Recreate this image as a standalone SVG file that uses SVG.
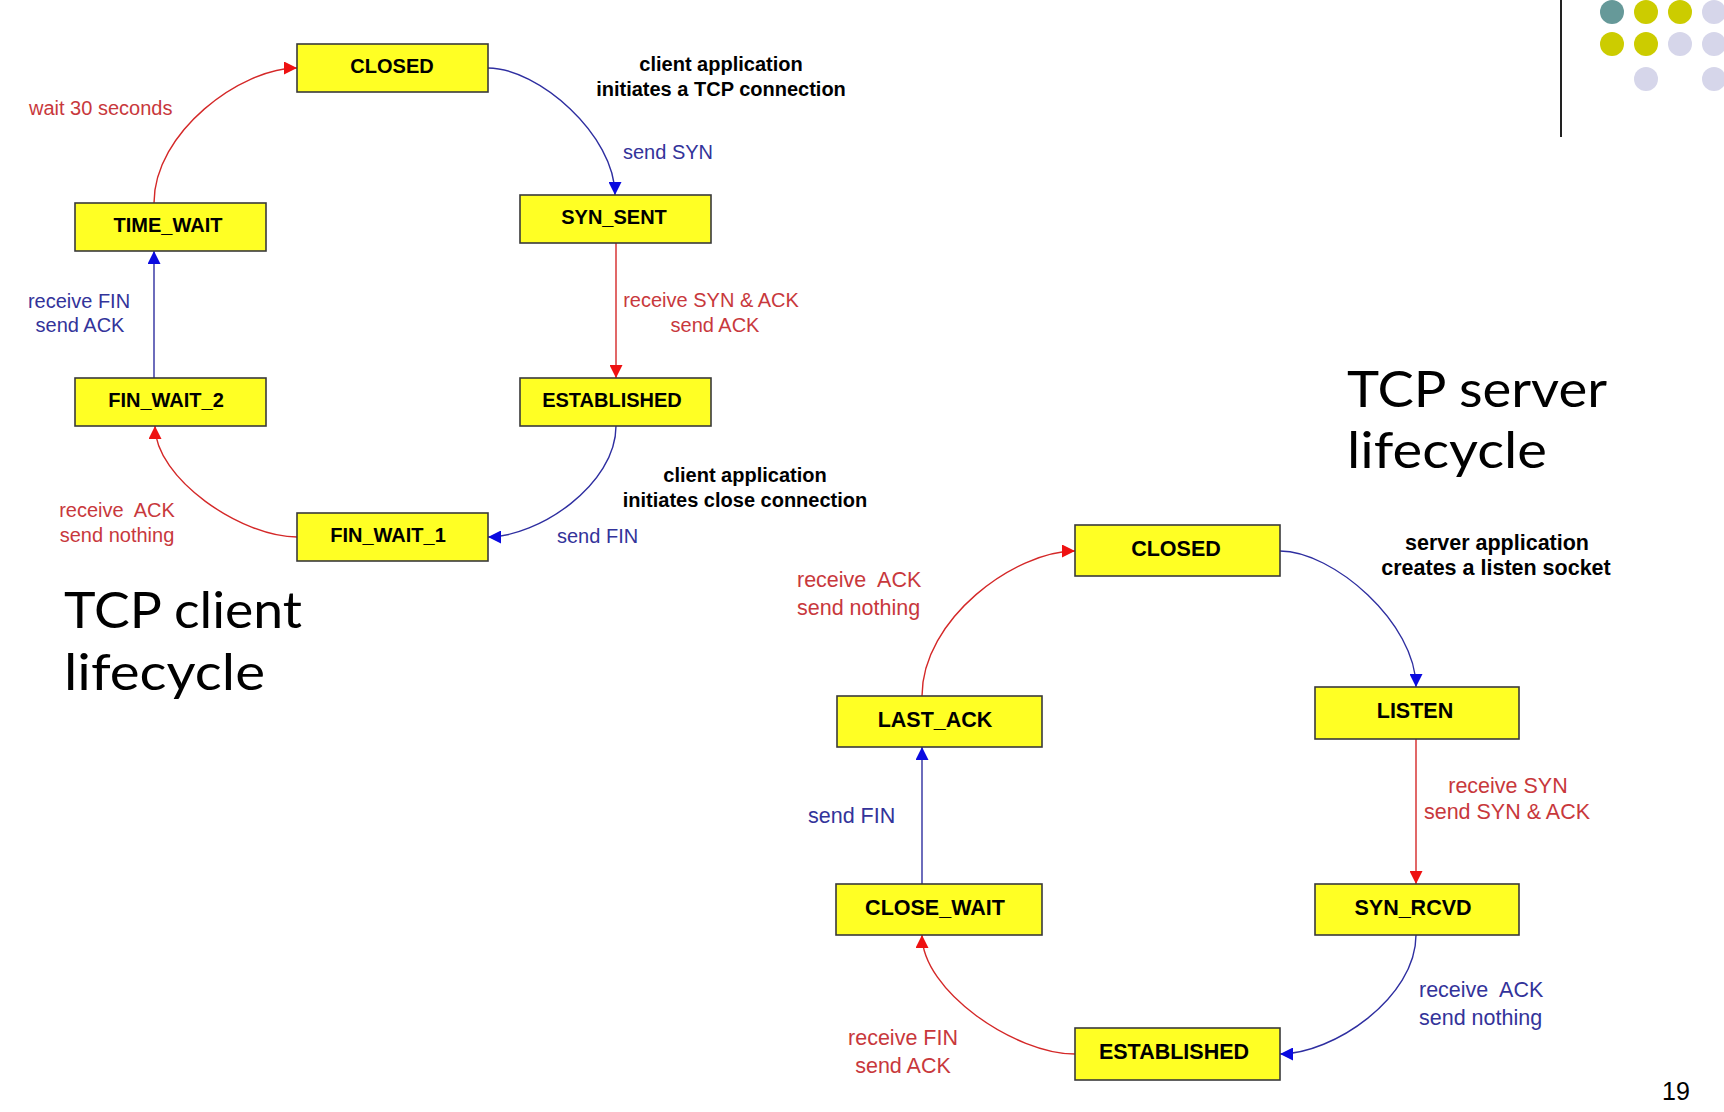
<svg xmlns="http://www.w3.org/2000/svg" width="1724" height="1112" viewBox="0 0 1724 1112">
<style>
.box{fill:#ffff24;stroke:#3a3a3a;stroke-width:1.6}
.nl{font-family:"Liberation Sans",Arial,sans-serif;font-weight:bold;fill:#000;text-anchor:middle}
.c .nl{font-size:20px}
.s .nl{font-size:21.5px}
.ann{font-family:"Liberation Sans",Arial,sans-serif;font-weight:bold;fill:#000;text-anchor:middle}
.lbl{font-family:"Liberation Sans",Arial,sans-serif}
.red{fill:#c8383c}
.blue{fill:#33339a}
.er{fill:none;stroke:#d42828;stroke-width:1.4}
.eb{fill:none;stroke:#2e2ea0;stroke-width:1.4}
.title{font-family:Lato,"Open Sans",sans-serif;font-size:50px;fill:#000}
</style>
<defs>
<marker id="ar" markerUnits="userSpaceOnUse" markerWidth="14" markerHeight="13" refX="13" refY="6.5" orient="auto" viewBox="0 0 14 13"><path d="M0,0 L13,6.5 L0,13 z" fill="#ee1111"/></marker>
<marker id="ab" markerUnits="userSpaceOnUse" markerWidth="14" markerHeight="13" refX="13" refY="6.5" orient="auto" viewBox="0 0 14 13"><path d="M0,0 L13,6.5 L0,13 z" fill="#0a0ae0"/></marker>
</defs>
<rect width="1724" height="1112" fill="#fff"/>

<!-- decoration -->
<line x1="1561" y1="0" x2="1561" y2="137" stroke="#222" stroke-width="2"/>
<g>
<circle cx="1612" cy="12" r="12" fill="#669999"/>
<circle cx="1646" cy="12" r="12" fill="#cccc00"/>
<circle cx="1680" cy="12" r="12" fill="#cccc00"/>
<circle cx="1714" cy="12" r="12" fill="#d6d6ea"/>
<circle cx="1612" cy="44" r="12" fill="#cccc00"/>
<circle cx="1646" cy="44" r="12" fill="#cccc00"/>
<circle cx="1680" cy="44" r="12" fill="#d6d6ea"/>
<circle cx="1714" cy="44" r="12" fill="#d6d6ea"/>
<circle cx="1646" cy="79" r="12" fill="#d6d6ea"/>
<circle cx="1714" cy="79" r="12" fill="#d6d6ea"/>
</g>

<!-- connectors -->
<g id="connectors">
<path class="er" d="M154,203 C154,132 241,68 297,68" marker-end="url(#ar)"/>
<path class="eb" d="M488,68 C538,68 615,135 615,195" marker-end="url(#ab)"/>
<path class="er" d="M616,243 L616,378" marker-end="url(#ar)"/>
<path class="eb" d="M616,426 C616,485 538,537 488,537" marker-end="url(#ab)"/>
<path class="er" d="M297,537 C242,537 155,479 155,426" marker-end="url(#ar)"/>
<path class="eb" d="M154,378 L154,251" marker-end="url(#ab)"/>

<path class="eb" d="M1280,551 C1333,551 1416,623 1416,687" marker-end="url(#ab)"/>
<path class="er" d="M1416,739 L1416,884" marker-end="url(#ar)"/>
<path class="eb" d="M1416,935 C1416,998 1333,1054 1280,1054" marker-end="url(#ab)"/>
<path class="er" d="M1075,1054 C1015,1054 922,991 922,935" marker-end="url(#ar)"/>
<path class="eb" d="M922,884 L922,747" marker-end="url(#ab)"/>
<path class="er" d="M922,696 C922,619 1015,551 1075,551" marker-end="url(#ar)"/>
</g>

<!-- client nodes -->
<g class="c">
<g id="c_closed"><rect class="box" x="297" y="44" width="191" height="48"/><text class="nl" x="392" y="73">CLOSED</text></g>
<g id="c_syn_sent"><rect class="box" x="520" y="195" width="191" height="48"/><text class="nl" x="614" y="224">SYN_SENT</text></g>
<g id="c_established"><rect class="box" x="520" y="378" width="191" height="48"/><text class="nl" x="612" y="407">ESTABLISHED</text></g>
<g id="c_fin_wait_1"><rect class="box" x="297" y="513" width="191" height="48"/><text class="nl" x="388" y="542">FIN_WAIT_1</text></g>
<g id="c_fin_wait_2"><rect class="box" x="75" y="378" width="191" height="48"/><text class="nl" x="166" y="407">FIN_WAIT_2</text></g>
<g id="c_time_wait"><rect class="box" x="75" y="203" width="191" height="48"/><text class="nl" x="168" y="232">TIME_WAIT</text></g>
</g>

<!-- server nodes -->
<g class="s">
<g id="s_closed"><rect class="box" x="1075" y="525" width="205" height="51"/><text class="nl" x="1176" y="556">CLOSED</text></g>
<g id="s_listen"><rect class="box" x="1315" y="687" width="204" height="52"/><text class="nl" x="1415" y="718">LISTEN</text></g>
<g id="s_syn_rcvd"><rect class="box" x="1315" y="884" width="204" height="51"/><text class="nl" x="1413" y="915">SYN_RCVD</text></g>
<g id="s_established"><rect class="box" x="1075" y="1028" width="205" height="52"/><text class="nl" x="1174" y="1059">ESTABLISHED</text></g>
<g id="s_close_wait"><rect class="box" x="836" y="884" width="206" height="51"/><text class="nl" x="935" y="915">CLOSE_WAIT</text></g>
<g id="s_last_ack"><rect class="box" x="837" y="696" width="205" height="51"/><text class="nl" x="935" y="727">LAST_ACK</text></g>
</g>

<!-- client labels -->
<g class="lbl" font-size="20">
<text class="red" x="29" y="115">wait 30 seconds</text>
<text class="blue" x="623" y="159">send SYN</text>
<text class="red" text-anchor="middle" x="711" y="307">receive SYN &amp; ACK</text>
<text class="red" text-anchor="middle" x="715" y="332">send ACK</text>
<text class="blue" text-anchor="middle" x="79" y="308">receive FIN</text>
<text class="blue" text-anchor="middle" x="80" y="332">send ACK</text>
<text class="red" text-anchor="middle" x="117" y="517" xml:space="preserve">receive  ACK</text>
<text class="red" text-anchor="middle" x="117" y="542">send nothing</text>
<text class="blue" x="557" y="543">send FIN</text>
</g>
<text class="ann" font-size="20" x="721" y="71">client application</text>
<text class="ann" font-size="20" x="721" y="96">initiates a TCP connection</text>
<text class="ann" font-size="20" x="745" y="482">client application</text>
<text class="ann" font-size="20" x="745" y="507">initiates close connection</text>

<!-- server labels -->
<g class="lbl" font-size="21.5">
<text class="red" x="797" y="587" xml:space="preserve">receive  ACK</text>
<text class="red" x="797" y="615">send nothing</text>
<text class="blue" x="808" y="823">send FIN</text>
<text class="red" text-anchor="middle" x="1508" y="793">receive SYN</text>
<text class="red" text-anchor="middle" x="1507" y="819">send SYN &amp; ACK</text>
<text class="blue" x="1419" y="997" xml:space="preserve">receive  ACK</text>
<text class="blue" x="1419" y="1025">send nothing</text>
<text class="red" text-anchor="middle" x="903" y="1045">receive FIN</text>
<text class="red" text-anchor="middle" x="903" y="1073">send ACK</text>
</g>
<text class="ann" font-size="21.5" x="1497" y="550">server application</text>
<text class="ann" font-size="21.5" x="1496" y="575">creates a listen socket</text>

<!-- titles -->
<text class="title" x="64" y="628" textLength="238" lengthAdjust="spacingAndGlyphs">TCP client</text>
<text class="title" x="64" y="690" textLength="201" lengthAdjust="spacingAndGlyphs">lifecycle</text>
<text class="title" x="1347" y="407" textLength="260" lengthAdjust="spacingAndGlyphs">TCP server</text>
<text class="title" x="1347" y="468" textLength="200" lengthAdjust="spacingAndGlyphs">lifecycle</text>

<text font-family="'Liberation Sans',Arial,sans-serif" font-size="25" x="1662" y="1100">19</text>
</svg>
